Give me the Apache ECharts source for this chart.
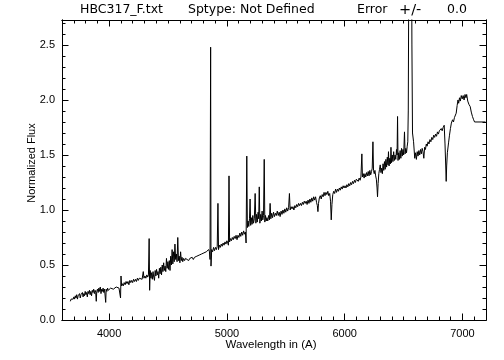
<!DOCTYPE html>
<html>
<head>
<meta charset="utf-8">
<script src="https://cdn.jsdelivr.net/npm/echarts@6/dist/echarts.min.js"></script>
<style>html,body{margin:0;padding:0;background:#fff;}#c{width:504px;height:360px;}</style>
</head>
<body>
<div id="c"></div>
<script>
// Wavelength (Angstrom) and normalized flux, region by region
var wavelength = [
3671,3677,3683,3689,3695,3701,3707,3713,3719,3725,3731,3737,3743,3749,3755,3761,3767,3773,3779,3785,
3791,3797,3803,3809,3815,3821,3827,3833,3839,3845,3851,3857,3863,3869,3875,3881,3886,3891,3895,3901,
3907,3913,3919,3925,3931,3937,3943,3949,3955,3961,3967,3971,3975,3981,3987,3993,3999,4006,4013,4020,
4028,4036,4044,4052,4060,4068,4076,4084,4092,4097,4101,4106,
4112,4120,4128,4136,4144,4152,4160,4168,4176,4184,4192,4200,4208,4216,4224,4232,4240,4248,4256,4264,
4272,4280,4290,4296,4304,4312,4320,4328,4334,
4340,4344,4349,4355,4361,4367,4373,4379,4385,4391,4397,4403,4409,4415,4421,4427,4433,4439,4445,4451,
4457,4463,4469,4475,4481,4487,4493,4499,4505,4511,4517,4523,4529,4535,4541,4547,4553,4559,4565,4571,
4577,4583,4589,4595,4601,4607,4613,4619,4625,4633,4641,4649,4657,
4665,4675,4685,4695,4705,4715,4725,4735,4745,4755,4765,4775,4785,4795,4805,4815,4825,4835,4845,4852,
4857,
4862,4865,4871,4879,4887,4895,4903,4911,4918,4924,4929,4936,4944,4952,4960,4968,4976,4984,4992,5000,
5008,5013,5018,5023,5030,5038,5046,5054,5062,5070,5078,5086,5094,5102,5110,5118,5126,5134,5142,5150,
5157,5163,
5169,5174,5180,5186,5192,5197,5202,5208,5214,5220,5226,5233,5240,5246,5252,5258,5265,5270,5275,5280,
5287,5293,5299,5305,5311,5317,5322,5328,5334,5340,
5347,5354,5361,5367,5373,5380,5388,5396,5404,5412,5420,5428,5436,5444,5452,5460,5468,5476,5484,5492,
5500,5508,5516,5524,5531,5537,5545,5553,5561,5569,5577,5585,5593,5601,5609,5617,5625,5633,5641,5649,
5657,5665,5673,5681,5689,5697,5705,5713,5721,5729,5737,5745,5753,5761,5768,5773,5778,5785,5793,5801,
5809,5817,5825,5833,5841,5849,5857,5865,5873,5880,5886,5892,5899,5907,5915,5923,5931,5939,5947,5955,
5963,5971,5979,5987,5995,6003,6011,6019,6027,6035,6043,6051,6059,6067,6075,6083,6091,6099,6107,6115,
6123,6131,6138,
6146,6151,6158,6165,6172,6179,6186,6193,6200,6207,6214,6221,6228,6234,6240,6245,6251,6257,6263,6269,
6275,6279,6284,6290,6296,6302,6308,6314,6320,6326,6332,6338,6344,6350,6356,6362,6368,6372,6377,6383,
6389,6393,6398,6404,6410,6416,6422,6428,6434,6440,6445,6449,6453,6459,6465,6471,6477,6483,6489,6495,
6501,6508,6513,6519,6525,6531,6536,
6540,6546,6555,6566,6571,6576,6585,6595,6602,6609,6616,6623,6630,6637,6644,6651,6658,6665,6672,6679,
6686,6693,6700,6708,6716,6724,6732,6740,6748,6756,6764,6772,6780,6788,6796,6804,6812,6820,6828,6836,
6845,6852,6858,6862,6866,6872,6882,6890,6898,6906,6916,6924,6932,6939,6947,6955,6962,6968,6975,6982,
6990,6998,7006,7014,7022,7030,7036,7045,7055,7066,7075,7085,7095,7103,7195
];
var flux = [
0.17,0.19,0.18,0.20,0.19,0.21,0.19,0.22,0.20,0.23,0.19,0.22,0.21,0.24,0.20,0.23,0.22,0.25,0.21,0.24,
0.22,0.26,0.23,0.25,0.21,0.26,0.24,0.27,0.23,0.26,0.22,0.27,0.25,0.28,0.24,0.27,0.25,0.17,0.26,0.28,
0.25,0.29,0.26,0.30,0.24,0.28,0.26,0.29,0.25,0.28,0.27,0.16,0.28,0.26,0.29,0.27,0.28,0.27,0.29,0.28,
0.30,0.28,0.29,0.28,0.30,0.29,0.30,0.29,0.30,0.20,0.40,0.31,
0.33,0.31,0.34,0.32,0.35,0.33,0.35,0.32,0.36,0.34,0.36,0.34,0.37,0.35,0.37,0.35,0.38,0.36,0.38,0.37,
0.39,0.37,0.44,0.38,0.40,0.38,0.41,0.39,0.41,
0.74,0.27,0.45,0.38,0.43,0.37,0.44,0.39,0.36,0.45,0.40,0.46,0.41,0.44,0.38,0.47,0.42,0.48,0.41,0.50,
0.44,0.52,0.45,0.49,0.44,0.56,0.47,0.53,0.46,0.54,0.45,0.58,0.50,0.64,0.51,0.62,0.53,0.69,0.55,0.60,
0.53,0.75,0.54,0.58,0.52,0.62,0.54,0.57,0.53,0.56,0.54,0.56,0.55,
0.56,0.54,0.56,0.55,0.57,0.55,0.57,0.56,0.58,0.57,0.59,0.58,0.60,0.59,0.61,0.60,0.62,0.61,0.64,0.62,
0.55,
2.48,0.49,0.64,0.62,0.66,0.63,0.66,0.64,0.67,1.06,0.64,0.68,0.66,0.69,0.67,0.70,0.68,0.71,0.69,0.72,
0.70,0.68,1.31,0.71,0.74,0.72,0.75,0.73,0.76,0.74,0.77,0.73,0.77,0.75,0.79,0.76,0.80,0.77,0.81,0.78,
0.80,0.70,
1.49,0.84,0.90,0.85,0.92,1.10,0.86,0.93,0.87,0.95,0.88,0.92,1.15,0.88,0.96,0.89,0.98,0.92,1.21,0.88,
0.96,0.90,0.99,0.91,0.95,1.46,0.89,0.95,0.90,0.93,
0.90,0.95,0.91,1.06,0.92,0.97,0.93,0.98,0.94,0.97,0.95,0.99,0.95,0.98,0.94,0.99,0.96,1.00,0.97,1.01,
0.98,1.02,0.99,1.02,1.15,1.00,1.03,1.01,1.03,1.00,1.04,1.02,1.05,1.03,1.06,1.04,1.06,1.04,1.07,1.05,
1.08,1.06,1.08,1.05,1.09,1.06,1.10,1.07,1.11,1.08,1.12,1.09,1.12,1.07,1.04,0.985,1.06,1.11,1.13,1.10,
1.14,1.12,1.16,1.13,1.16,1.14,1.17,1.13,1.15,1.08,0.91,1.05,1.14,1.17,1.15,1.19,1.16,1.19,1.17,1.20,
1.18,1.21,1.19,1.22,1.20,1.22,1.20,1.23,1.21,1.24,1.22,1.25,1.23,1.26,1.24,1.27,1.25,1.28,1.29,1.26,
1.29,1.27,1.30,
1.51,1.30,1.33,1.29,1.33,1.30,1.34,1.31,1.35,1.31,1.36,1.32,1.35,1.38,1.62,1.36,1.33,1.36,1.31,1.28,
1.20,1.12,1.24,1.33,1.37,1.41,1.34,1.38,1.33,1.42,1.36,1.44,1.37,1.46,1.39,1.48,1.41,1.53,1.40,1.47,
1.42,1.57,1.43,1.50,1.44,1.53,1.45,1.50,1.46,1.55,1.50,1.85,1.45,1.52,1.46,1.54,1.47,1.56,1.49,1.55,
1.50,1.71,1.51,1.56,1.52,1.58,1.62,
1.90,3.60,4.50,4.00,2.50,1.70,1.62,1.47,1.52,1.46,1.53,1.49,1.54,1.50,1.55,1.51,1.56,1.53,1.47,1.57,
1.55,1.60,1.58,1.62,1.60,1.64,1.62,1.66,1.64,1.68,1.66,1.69,1.67,1.71,1.69,1.72,1.71,1.74,1.72,1.75,
1.77,1.60,1.40,1.26,1.40,1.52,1.61,1.68,1.74,1.79,1.82,1.80,1.84,1.83,1.88,1.95,2.00,1.97,2.02,1.99,
2.04,2.01,2.04,2.00,2.05,2.02,2.05,1.99,1.96,1.94,1.89,1.85,1.82,1.80,1.80
];
var xMajorTicks = [4000, 5000, 6000, 7000];
var yMajorStep = 0.5;
var xMinorStep = 100, yMinorStep = 0.1;
var titleParts = ['HBC317_F.txt', 'Sptype: Not Defined', 'Error', '+/-', '0.0'];
var xName = 'Wavelength in (A)';
var yName = 'Normalized Flux';

var points = wavelength.map(function (w, i) { return [w, flux[i]]; });

var FONT = 'Liberation Sans';
var TFONT = 'DejaVu Sans';
var XMIN = 3600, XMAX = 7200, YMIN = 0, YMAX = 2.727;

function ls() { return { color: '#000', width: 1 }; }
function blankLabel() { return { show: true, formatter: function () { return ''; } }; }
function xAx(pos, major) {
  var a = {
    type: 'value', position: pos, min: XMIN, max: XMAX,
    axisLine: { show: true, onZero: false, lineStyle: ls() },
    splitLine: { show: false },
    axisTick: { show: true, inside: true, length: major ? 6.5 : 3.5, lineStyle: ls() },
    axisLabel: blankLabel()
  };
  if (major) {
    a.axisTick.customValues = xMajorTicks;
    a.axisLabel = { show: true, customValues: xMajorTicks, color: '#000', fontFamily: FONT, fontSize: 11, margin: 8,
      formatter: pos === 'bottom' ? function (v) { return String(Math.round(v)); } : function () { return ''; } };
  } else {
    a.interval = xMinorStep;
  }
  return a;
}
function yAx(pos, major) {
  var a = {
    type: 'value', position: pos, min: YMIN, max: YMAX,
    interval: major ? yMajorStep : yMinorStep,
    axisLine: { show: true, onZero: false, lineStyle: ls() },
    splitLine: { show: false },
    axisTick: { show: true, inside: true, length: major ? 6.5 : 3.5, lineStyle: ls() },
    axisLabel: blankLabel()
  };
  if (major && pos === 'left') {
    a.axisLabel = { show: true, color: '#000', fontFamily: FONT, fontSize: 11, margin: 7, showMaxLabel: false,
      formatter: function (v) { return Number(v).toFixed(1); } };
  }
  return a;
}

var chart = echarts.init(document.getElementById('c'), null, { renderer: 'canvas' });
var txt = function (x, y, s, font, align) {
  return { type: 'text', x: x, y: y, silent: true,
    style: { text: s, fill: '#000', font: font, textAlign: align || 'left', textVerticalAlign: 'middle' } };
};
var tf = '12.5px "' + TFONT + '"';
chart.setOption({
  animation: false,
  backgroundColor: '#fff',
  grid: { left: 62, right: 18, top: 20, bottom: 40, containLabel: false },
  xAxis: [xAx('bottom', false), xAx('bottom', true), xAx('top', false), xAx('top', true)],
  yAxis: [yAx('left', false), yAx('left', true), yAx('right', false), yAx('right', true)],
  graphic: [
    txt(80, 10, titleParts[0], tf),
    txt(188, 10, titleParts[1], tf),
    txt(357, 10, titleParts[2], tf),
    txt(399, 10, titleParts[3], '14.5px "' + TFONT + '"'),
    txt(447, 10, titleParts[4], tf),
    txt(271, 345, xName, '11.5px "' + FONT + '"', 'center'),
    { type: 'text', x: 32, y: 163, rotation: Math.PI / 2, silent: true,
      style: { text: yName, fill: '#000', font: '11px "' + FONT + '"', textAlign: 'center', textVerticalAlign: 'middle' } }
  ],
  series: [{
    type: 'line', xAxisIndex: 1, yAxisIndex: 1, data: points, showSymbol: false, symbol: 'none',
    clip: true, lineStyle: { color: '#000', width: 1 }, silent: true
  }]
});
</script>
</body>
</html>
